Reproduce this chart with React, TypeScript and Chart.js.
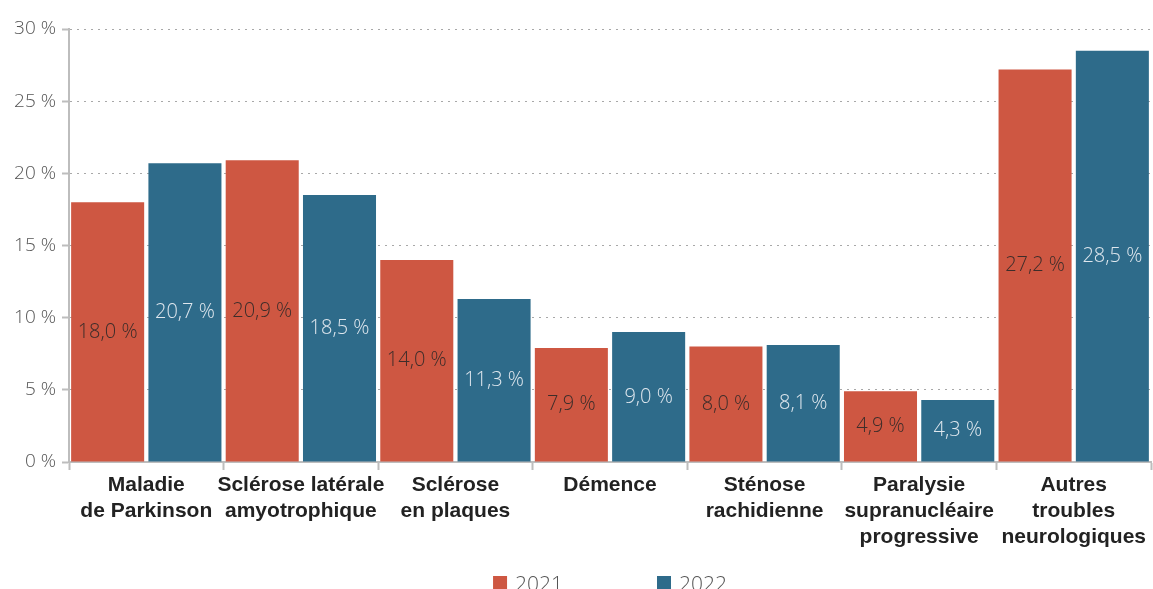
import { useEffect, useRef } from 'react';
import { Chart, registerables } from 'chart.js';

Chart.register(...registerables);

const categories: string[][] = [
  ['Maladie', 'de Parkinson'],
  ['Sclérose latérale', 'amyotrophique'],
  ['Sclérose', 'en plaques'],
  ['Démence'],
  ['Sténose', 'rachidienne'],
  ['Paralysie', 'supranucléaire', 'progressive'],
  ['Autres', 'troubles', 'neurologiques'],
];
const seriesNames = ['2021', '2022'];
const values2021 = [18.0, 20.9, 14.0, 7.9, 8.0, 4.9, 27.2];
const values2022 = [20.7, 18.5, 11.3, 9.0, 8.1, 4.3, 28.5];
const yMin = 0;
const yMax = 30;
const yStep = 5;

const RED = '#CE5742';
const BLUE = '#2E6B8A';
const LIGHT_FONT = "'Open Sans', Roboto, 'Liberation Sans', sans-serif";
const BOLD_FONT = "'Liberation Sans', Arial, sans-serif";

const fmt = (v: number) => v.toFixed(1).replace('.', ',') + ' %';

const valueLabels = {
  id: 'valueLabels',
  afterDatasetsDraw(chart: any) {
    const ctx = chart.ctx;
    ctx.save();
    ctx.font = `300 20px ${LIGHT_FONT}`;
    ctx.textAlign = 'center';
    ctx.textBaseline = 'middle';
    chart.data.datasets.forEach((ds: any, di: number) => {
      const meta = chart.getDatasetMeta(di);
      ctx.fillStyle = ds.labelColor;
      meta.data.forEach((el: any, i: number) => {
        const { x, y, base } = el.getProps(['x', 'y', 'base'], true);
        ctx.fillText(fmt(ds.data[i]), x, (y + base) / 2);
      });
    });
    ctx.restore();
  },
};

const bottomLegend = {
  id: 'bottomLegend',
  afterDraw(chart: any) {
    const ctx = chart.ctx;
    const area = chart.chartArea;
    ctx.save();
    ctx.font = `300 21px ${LIGHT_FONT}`;
    const box = 14;
    const gap = 8;
    const itemGap = 94;
    const items = chart.data.datasets.map((ds: any) => ({
      text: ds.label,
      color: ds.backgroundColor,
      w: ctx.measureText(ds.label).width,
    }));
    const total = items.reduce((s: number, it: any) => s + box + gap + it.w, 0) + itemGap * (items.length - 1);
    let x = (area.left + area.right) / 2 - total / 2;
    const boxTop = chart.height - 13;
    const baseline = chart.height + 2;
    items.forEach((it: any) => {
      ctx.fillStyle = it.color;
      ctx.fillRect(x, boxTop, box, box);
      x += box + gap;
      ctx.fillStyle = '#555';
      ctx.textAlign = 'left';
      ctx.textBaseline = 'alphabetic';
      ctx.fillText(it.text, x, baseline);
      x += it.w + itemGap;
    });
    ctx.restore();
  },
};

export default function App() {
  const ref = useRef<HTMLCanvasElement>(null);
  useEffect(() => {
    document.body.style.margin = '0';
    const chart = new Chart(ref.current!, {
      type: 'bar',
      data: {
        labels: categories,
        datasets: [
          {
            label: seriesNames[0],
            data: values2021,
            backgroundColor: RED,
            labelColor: '#3d2d2a',
            barPercentage: 0.945,
            categoryPercentage: 1,
          } as any,
          {
            label: seriesNames[1],
            data: values2022,
            backgroundColor: BLUE,
            labelColor: '#dfe7ee',
            barPercentage: 0.945,
            categoryPercentage: 1,
          } as any,
        ],
      },
      options: {
        responsive: false,
        animation: false,
        layout: { padding: { top: 29, right: 2, left: 0, bottom: 0 } },
        plugins: {
          legend: { display: false },
          tooltip: { enabled: false },
        },
        scales: {
          x: {
            grid: {
              drawOnChartArea: false,
              drawTicks: true,
              tickLength: 8,
              tickWidth: 2,
              tickColor: '#bdbdbd',
              offset: true,
            },
            border: { color: '#bdbdbd', width: 2 },
            ticks: {
              color: '#222',
              padding: 2,
              maxRotation: 0,
              autoSkip: false,
              font: { family: BOLD_FONT, size: 21, weight: 'bold', lineHeight: 1.24 },
            },
            afterFit(scale: any) {
              scale.height = 127;
            },
          },
          y: {
            min: yMin,
            max: yMax,
            ticks: {
              stepSize: yStep,
              color: '#555',
              padding: 6,
              font: { family: LIGHT_FONT, size: 19, weight: 300 },
              callback: (v: any) => `${v} %`,
            },
            grid: {
              color: '#a8a8a8',
              lineWidth: 1,
              tickColor: '#bdbdbd',
              tickLength: 7,
              tickWidth: 2,
            },
            border: { color: '#bdbdbd', width: 2, dash: [2, 5] },
            afterFit(scale: any) {
              scale.width = 69;
            },
          },
        },
      },
      plugins: [valueLabels, bottomLegend],
    });
    return () => chart.destroy();
  }, []);
  return <canvas ref={ref} width={1153} height={589} style={{ display: 'block' }} />;
}
